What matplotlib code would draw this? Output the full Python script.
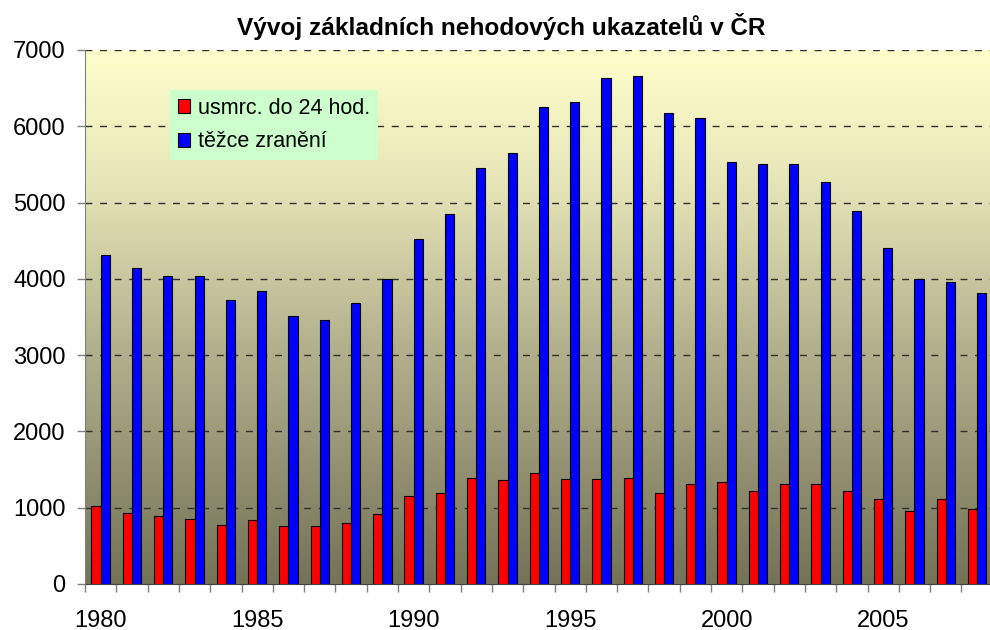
import numpy as np
import matplotlib
matplotlib.use("Agg")
import matplotlib.pyplot as plt
from matplotlib.colors import LinearSegmentedColormap

plt.rcParams['font.family'] = ['Liberation Sans', 'DejaVu Sans']

years = list(range(1980, 2009))
killed = [1017, 935, 896, 857, 778, 835, 757, 757, 796, 913,
          1152, 1191, 1396, 1357, 1457, 1374, 1374, 1396, 1196, 1317,
          1335, 1217, 1317, 1317, 1217, 1113, 961, 1113, 978]
injured = [4319, 4139, 4038, 4038, 3719, 3837, 3518, 3456, 3679, 3999,
           4520, 4849, 5453, 5650, 6255, 6320, 6632, 6658, 6172, 6114,
           5528, 5510, 5510, 5269, 4884, 4402, 3999, 3955, 3815]
label_killed = "usmrc. do 24 hod."
label_injured = "těžce zranění"
title = "Vývoj základních nehodových ukazatelů v ČR"
yticks = [0, 1000, 2000, 3000, 4000, 5000, 6000, 7000]

W, H = 990, 630
fig = plt.figure(figsize=(W / 100, H / 100), dpi=100)
fig.patch.set_facecolor('white')
left, right, top, bottom = 85, 992.7, 50, 584
ax = fig.add_axes([left / W, (H - bottom) / H, (right - left) / W, (bottom - top) / H])

n = len(years)
x = np.arange(n)
ax.set_xlim(-0.5, n - 0.5)
ax.set_ylim(0, 7000)

# background gradient
cmap = LinearSegmentedColormap.from_list(
    'bg', [(0.0, '#747257'), (0.45, '#b4b28e'), (0.75, '#e6e5b8'), (1.0, '#ffffcc')])
grad = np.linspace(0, 1, 256).reshape(-1, 1)
ax.imshow(grad, cmap=cmap, origin='lower', aspect='auto',
          extent=(-0.5, n - 0.5, 0, 7000), zorder=0)

w = 0.295
ax.bar(x - w / 2, killed, width=w, color='#ff0000', edgecolor='black', linewidth=0.8,
       label=label_killed, zorder=3)
ax.bar(x + w / 2, injured, width=w, color='#0000ff', edgecolor='black', linewidth=0.8,
       label=label_injured, zorder=3)

for yv in yticks[1:]:
    ax.axhline(yv, color='#303030', lw=1.0, linestyle=(0, (5, 5.5)), zorder=1)

ax.set_yticks(yticks)
ax.set_yticklabels([str(v) for v in yticks], fontsize=17)
ax.tick_params(axis='y', length=6, width=1, color='#808080', pad=8)

ax.set_xticks([i for i in x if years[i] % 5 == 0])
ax.set_xticklabels([str(years[i]) for i in x if years[i] % 5 == 0], fontsize=17)
ax.set_xticks(np.arange(-0.5, n, 1.0), minor=True)
ax.tick_params(axis='x', which='major', length=0, pad=18.5)
ax.tick_params(axis='x', which='minor', length=6, width=1, color='#808080')

for s in ['top', 'right']:
    ax.spines[s].set_visible(False)
ax.spines['left'].set_color('#808080')
ax.spines['bottom'].set_color('#404040')
ax.spines['left'].set_zorder(4)

leg = ax.legend(loc='upper left', bbox_to_anchor=((170 - left) / (right - left), 1 - (90 - top) / (bottom - top)),
                fontsize=15.5, frameon=True, fancybox=False, framealpha=1,
                facecolor='#ccffcc', edgecolor='none', handlelength=0.6, handleheight=0.6,
                handletextpad=0.35, labelspacing=0.6, borderpad=0.35, borderaxespad=0)
leg.set_zorder(5)

fig.text(501 / W, 1 - 27 / H, title, ha='center', va='center', fontsize=17.6, fontweight='bold')

fig.savefig('out.png', dpi=100)
